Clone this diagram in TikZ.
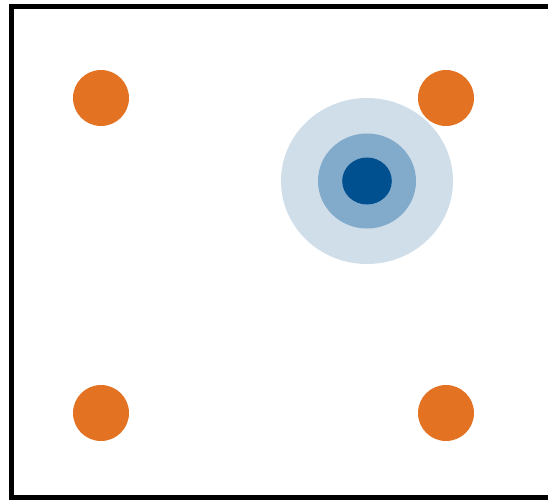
\documentclass[tikz,border=0pt]{standalone}
\definecolor{dotorange}{HTML}{E37222}
\definecolor{blueA}{HTML}{D0DEEA}
\definecolor{blueB}{HTML}{82AACB}
\definecolor{blueC}{HTML}{00508F}
\begin{document}
\begin{tikzpicture}[x=1pt,y=-1pt,
  dot/.style={circle,fill=dotorange,draw=none,minimum size=56pt,inner sep=0pt}]
\clip (0,0) rectangle (548,500);
\useasboundingbox (0,0) rectangle (548,500);
\draw[line width=5pt] (570,7) -- (11.5,7) -- (11.5,497.5) -- (570,497.5);
\node[dot] (tl) at (101,98) {};
\node[dot] (tr) at (446,98) {};
\node[dot] (bl) at (101,413) {};
\node[dot] (br) at (446,413) {};
\fill[blueA] (367,181) ellipse [x radius=86, y radius=83];
\fill[blueB] (367,181) ellipse [x radius=49, y radius=47.5];
\fill[blueC] (367,181) ellipse [x radius=24.8, y radius=23.5];
\end{tikzpicture}
\end{document}
